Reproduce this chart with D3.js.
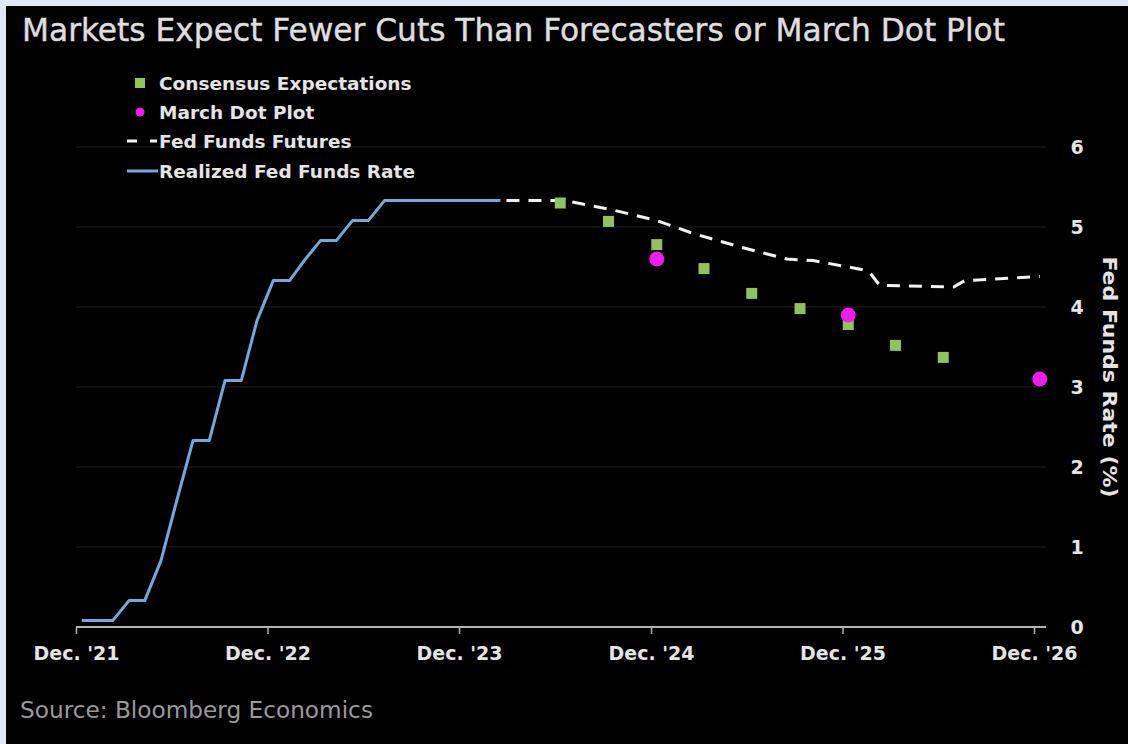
<!DOCTYPE html>
<html>
<head>
<meta charset="utf-8">
<script src="https://cdn.jsdelivr.net/npm/d3@7"></script>
<style>
  html, body { margin: 0; padding: 0; background: #dfe9f5; }
  svg { display: block; }
</style>
</head>
<body>
<svg id="chart" width="1128" height="744"></svg>
<script>
// ---- Data ----
const realizedDates = [
  "2021-12-31","2022-01-31","2022-02-28","2022-03-31","2022-04-30","2022-05-31",
  "2022-06-30","2022-07-31","2022-08-31","2022-09-30","2022-10-31","2022-11-30",
  "2022-12-31","2023-01-31","2023-02-28","2023-03-31","2023-04-30","2023-05-31",
  "2023-06-30","2023-07-31","2023-08-31","2023-09-30","2023-10-31","2023-11-30",
  "2023-12-31","2024-01-31","2024-02-29","2024-03-08"
];
const realizedValues = [
  0.08, 0.08, 0.08, 0.33, 0.33, 0.83,
  1.58, 2.33, 2.33, 3.08, 3.08, 3.83,
  4.33, 4.33, 4.58, 4.83, 4.83, 5.08,
  5.08, 5.33, 5.33, 5.33, 5.33, 5.33,
  5.33, 5.33, 5.33, 5.33
];

const futuresDates = [
  "2024-03-08","2024-07-10","2024-10-10","2024-12-31","2025-03-10","2025-06-08",
  "2025-09-05","2025-10-25","2026-01-25","2026-02-10","2026-03-01","2026-07-20",
  "2026-08-10","2026-12-31"
];
const futuresValues = [
  5.33, 5.33, 5.21, 5.08, 4.92, 4.75,
  4.60, 4.58, 4.47, 4.43, 4.27, 4.25,
  4.33, 4.38
];

const consensusDates = [
  "2024-06-30","2024-09-30","2024-12-31","2025-03-31","2025-06-30",
  "2025-09-30","2025-12-31","2026-03-31","2026-06-30"
];
const consensusValues = [5.30, 5.07, 4.78, 4.48, 4.17, 3.98, 3.78, 3.52, 3.37];

const dotPlotDates = ["2024-12-31","2025-12-31","2026-12-31"];
const dotPlotValues = [4.6, 3.9, 3.1];

const xTickDates = ["2021-12-20","2022-12-20","2023-12-20","2024-12-20","2025-12-20","2026-12-20"];
const xTickLabels = ["Dec. '21","Dec. '22","Dec. '23","Dec. '24","Dec. '25","Dec. '26"];
const yTicks = [0, 1, 2, 3, 4, 5, 6];

const legendLabels = ["Consensus Expectations", "March Dot Plot", "Fed Funds Futures", "Realized Fed Funds Rate"];

const titleText = "Markets Expect Fewer Cuts Than Forecasters or March Dot Plot";
const sourceText = "Source: Bloomberg Economics";
const yTitle = "Fed Funds Rate (%)";

// ---- Styling ----
const C = {
  panel: "#000000",
  text: "#e4e4e4",
  title: "#dedede",
  source: "#9a9a9a",
  grid: "#222222",
  axis: "#b4b4b4",
  blue: "#72a9dc",
  futures: "#f2f2f2",
  green: "#8fc45a",
  magenta: "#ee1cee"
};
const boldFont = "'DejaVu Sans', Verdana, sans-serif";
const narrowFont = "'Liberation Sans Narrow', 'DejaVu Sans Condensed', 'Liberation Sans', sans-serif";

const parse = d3.timeParse("%Y-%m-%d");
const realized = realizedDates.map((d, i) => ({ date: parse(d), value: realizedValues[i] }));
const futures = futuresDates.map((d, i) => ({ date: parse(d), value: futuresValues[i] }));
const consensus = consensusDates.map((d, i) => ({ date: parse(d), value: consensusValues[i] }));
const dotPlot = dotPlotDates.map((d, i) => ({ date: parse(d), value: dotPlotValues[i] }));

const svg = d3.select("#chart");
const W = 1128, H = 744;

// frame: light outer edge, black panel
svg.append("rect").attr("width", W).attr("height", H).attr("fill", "#dfe9f5");
svg.append("rect").attr("x", 6).attr("y", 6).attr("width", W - 6).attr("height", H - 6).attr("fill", C.panel);

const x = d3.scaleTime()
  .domain([parse(xTickDates[0]), parse(xTickDates[xTickDates.length - 1])])
  .range([76, 1034]);
const y = d3.scaleLinear().domain([0, 6]).range([627, 147]);
const gridRight = 1046;

// title
svg.append("text")
  .attr("x", 22).attr("y", 41)
  .attr("font-family", narrowFont)
  .attr("font-size", 32)
  .attr("font-weight", 500)
  .attr("fill", C.title)
  .attr("stroke", C.title)
  .attr("stroke-width", 0.4)
  .attr("textLength", 983)
  .attr("lengthAdjust", "spacingAndGlyphs")
  .text(titleText);

// horizontal grid
svg.append("g").selectAll("line")
  .data(yTicks.filter(v => v > 0))
  .join("line")
  .attr("x1", x.range()[0]).attr("x2", gridRight)
  .attr("y1", d => y(d)).attr("y2", d => y(d))
  .attr("stroke", C.grid).attr("stroke-width", 1.2);

// x axis
const xAxis = d3.axisBottom(x)
  .tickValues(xTickDates.map(parse))
  .tickFormat((d, i) => xTickLabels[i])
  .tickSize(7)
  .tickPadding(13);
const gx = svg.append("g").attr("transform", `translate(0,${y(0)})`).call(xAxis);
gx.select(".domain").remove();
gx.selectAll(".tick line").attr("stroke", C.axis).attr("stroke-width", 1.5);
gx.selectAll(".tick text")
  .attr("fill", C.text)
  .attr("font-family", boldFont)
  .attr("font-weight", "bold")
  .attr("font-size", 19);
gx.append("line")
  .attr("x1", x.range()[0]).attr("x2", gridRight)
  .attr("y1", 0).attr("y2", 0)
  .attr("stroke", C.axis).attr("stroke-width", 2);

// y axis (right side)
const yAxis = d3.axisRight(y).tickValues(yTicks).tickFormat(d3.format("d")).tickSize(0).tickPadding(0);
const gy = svg.append("g").attr("transform", "translate(1077,0)").call(yAxis);
gy.select(".domain").remove();
gy.selectAll(".tick text")
  .attr("text-anchor", "middle")
  .attr("fill", C.text)
  .attr("font-family", boldFont)
  .attr("font-weight", "bold")
  .attr("font-size", 19);

svg.append("text")
  .attr("transform", "translate(1103,377) rotate(90)")
  .attr("text-anchor", "middle")
  .attr("fill", C.text)
  .attr("font-family", boldFont)
  .attr("font-weight", "bold")
  .attr("font-size", 20)
  .attr("textLength", 241)
  .attr("lengthAdjust", "spacingAndGlyphs")
  .text(yTitle);

// lines
const line = d3.line().x(d => x(d.date)).y(d => y(d.value));

svg.append("path")
  .datum(futures)
  .attr("d", line)
  .attr("fill", "none")
  .attr("stroke", C.futures)
  .attr("stroke-width", 3)
  .attr("stroke-dasharray", "13,9")
  .attr("stroke-dashoffset", -6);

svg.append("path")
  .datum(realized)
  .attr("d", line)
  .attr("fill", "none")
  .attr("stroke", C.blue)
  .attr("stroke-width", 3)
  .attr("stroke-linejoin", "round");

// consensus squares
const sq = 11;
svg.append("g").selectAll("rect")
  .data(consensus)
  .join("rect")
  .attr("x", d => x(d.date) - sq / 2)
  .attr("y", d => y(d.value) - sq / 2)
  .attr("width", sq).attr("height", sq)
  .attr("fill", C.green);

// dot plot medians
svg.append("g").selectAll("circle")
  .data(dotPlot)
  .join("circle")
  .attr("cx", d => x(d.date))
  .attr("cy", d => y(d.value))
  .attr("r", 7.5)
  .attr("fill", C.magenta);

// legend
const lg = svg.append("g");
const rowY = [83, 112, 141, 171];
const textX = 159;
lg.append("rect").attr("x", 135).attr("y", rowY[0] - 5).attr("width", 10).attr("height", 10).attr("fill", C.green);
lg.append("circle").attr("cx", 140).attr("cy", rowY[1]).attr("r", 4.5).attr("fill", C.magenta);
lg.append("line").attr("x1", 127).attr("x2", 157).attr("y1", rowY[2]).attr("y2", rowY[2])
  .attr("stroke", C.futures).attr("stroke-width", 3).attr("stroke-dasharray", "10,13");
lg.append("line").attr("x1", 127).attr("x2", 158).attr("y1", rowY[3]).attr("y2", rowY[3])
  .attr("stroke", C.blue).attr("stroke-width", 3);
lg.selectAll("text.lab")
  .data(legendLabels)
  .join("text")
  .attr("class", "lab")
  .attr("x", textX)
  .attr("y", (d, i) => rowY[i] + 7)
  .attr("fill", C.text)
  .attr("font-family", boldFont)
  .attr("font-weight", "bold")
  .attr("font-size", 18.5)
  .text(d => d);

// source
svg.append("text")
  .attr("x", 20).attr("y", 718)
  .attr("font-family", narrowFont)
  .attr("font-size", 23)
  .attr("fill", C.source)
  .attr("textLength", 353)
  .attr("lengthAdjust", "spacingAndGlyphs")
  .text(sourceText);
</script>
</body>
</html>
